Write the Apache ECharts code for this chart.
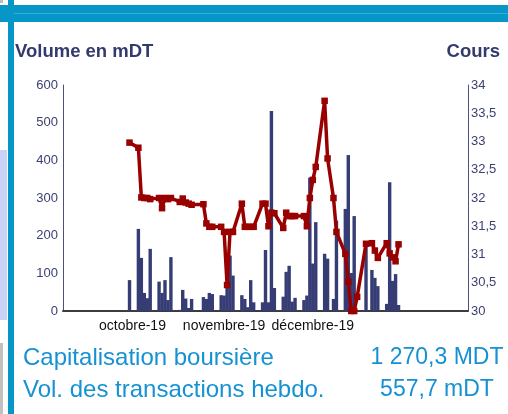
<!DOCTYPE html>
<html>
<head>
<meta charset="utf-8">
<style>
  html, body { margin: 0; padding: 0; background: #fff; }
  #chart { width: 508px; height: 414px; }
</style>
<script src="https://cdn.jsdelivr.net/npm/echarts@6.0.0/dist/echarts.min.js"></script>
</head>
<body>
<div id="chart"></div>
<script>
// axis runs day by day, from first to last calendar day
const axisStart = '2019-09-08'
const axisEnd = '2020-01-22'
const monthLabels = { '2019-10-01': 'octobre-19', '2019-11-01': 'novembre-19', '2019-12-01': 'décembre-19' }

const tradeDates = [
  '2019-09-30', '2019-10-03', '2019-10-04', '2019-10-05', '2019-10-06', '2019-10-07',
  '2019-10-10', '2019-10-11', '2019-10-12', '2019-10-13', '2019-10-14',
  '2019-10-17', '2019-10-18', '2019-10-19', '2019-10-20', '2019-10-21',
  '2019-10-25', '2019-10-26', '2019-10-27', '2019-10-28',
  '2019-10-31', '2019-11-01', '2019-11-02', '2019-11-03', '2019-11-04',
  '2019-11-07', '2019-11-08', '2019-11-09', '2019-11-10', '2019-11-11',
  '2019-11-14', '2019-11-15', '2019-11-16', '2019-11-17', '2019-11-18',
  '2019-11-21', '2019-11-22', '2019-11-23', '2019-11-24', '2019-11-25',
  '2019-11-28', '2019-11-29', '2019-11-30', '2019-12-01', '2019-12-02',
  '2019-12-05', '2019-12-06', '2019-12-08', '2019-12-09',
  '2019-12-12', '2019-12-13', '2019-12-14', '2019-12-15', '2019-12-16',
  '2019-12-19', '2019-12-21', '2019-12-22', '2019-12-23',
  '2019-12-26', '2019-12-27', '2019-12-28', '2019-12-29', '2019-12-30'
]
const volumes = [
  82, 218, 141, 48, 34, 165,
  78, 48, 82, 29, 143,
  3, 56, 33, 8, 32,
  37, 32, 48, 45,
  42, 41, 69, 147, 94,
  42, 32, 10, 82, 23,
  23, 162, 23, 531, 61,
  38, 104, 120, 25, 35,
  29, 41, 354, 126, 236,
  152, 139, 32, 240,
  271, 414, 101, 252, null,
  175, 109, 88, 66,
  19, 342, 80, 98, 16
]
const prices = [
  32.98, 32.89, 32.01, 32.0, 32.0, 31.98,
  32.0, 31.82, 32.0, 31.98, 32.0,
  31.93, 31.99, 31.92, 31.9, 31.88,
  31.89, 31.55, 31.49, 31.49,
  31.49, 31.4, 30.46, 31.4, 31.4,
  31.9, 31.49, 31.49, 31.49, 31.49,
  31.9, 31.9, 31.5, 31.74, 31.73,
  31.47, 31.74, 31.68, 31.68, 31.68,
  31.68, 31.5, 32.0, 32.32, 32.55,
  33.72, 32.7, 32.0, 31.4,
  31.01, 30.52, 30.0, 30.0, 30.25,
  31.19, 31.2, 31.07, 30.94,
  31.2, 31.02, 30.95, 30.88, 31.18
]

const days = []
for (let d = new Date(axisStart + 'T00:00:00Z'); d <= new Date(axisEnd + 'T00:00:00Z'); d.setUTCDate(d.getUTCDate() + 1)) {
  days.push(d.toISOString().slice(0, 10))
}
const volByDay = days.map((day) => { const i = tradeDates.indexOf(day); return i < 0 ? null : volumes[i] })
const priceByDay = days.map((day) => { const i = tradeDates.indexOf(day); return i < 0 ? null : prices[i] })

const font = "'Liberation Sans', Arial, sans-serif"
const navy = '#363c74'
const blue = '#1591d4'

const chart = echarts.init(document.getElementById('chart'), null, { renderer: 'canvas' })
chart.setOption({
  animation: false,
  backgroundColor: '#fff',
  grid: { left: 63, right: 40, top: 85, bottom: 103 },
  xAxis: {
    type: 'category', data: days,
    axisLine: { lineStyle: { color: '#3c3c3c', width: 2 } },
    axisTick: { show: false },
    axisLabel: {
      interval: (idx, val) => val in monthLabels,
      formatter: (val) => monthLabels[val] || '',
      color: '#111', fontSize: 14, fontFamily: font, margin: 8
    }
  },
  yAxis: [
    {
      type: 'value', min: 0, max: 600, interval: 100,
      axisLine: { show: true, lineStyle: { color: '#4a5082' } },
      axisTick: { show: false }, splitLine: { show: false },
      axisLabel: { color: '#3b4170', fontSize: 13, fontFamily: font, margin: 5 }
    },
    {
      type: 'value', min: 30, max: 34, interval: 0.5, position: 'right',
      axisLine: { show: true, lineStyle: { color: '#4a5082' } },
      axisTick: { show: false }, splitLine: { show: false },
      axisLabel: { color: '#3b4170', fontSize: 13, fontFamily: font, margin: 3, formatter: (v) => String(v).replace('.', ',') }
    }
  ],
  series: [
    { name: 'Volume', type: 'bar', data: volByDay, barWidth: 3.4, itemStyle: { color: navy } },
    {
      name: 'Cours', type: 'line', yAxisIndex: 1, data: priceByDay, connectNulls: true,
      symbol: 'rect', symbolSize: 6.5, showAllSymbol: true,
      lineStyle: { color: '#990000', width: 3.5 }, itemStyle: { color: '#990000' }
    }
  ],
  graphic: [
    { type: 'rect', shape: { x: 0, y: 0, width: 3, height: 3 }, style: { fill: '#bdbdbd' } },
    { type: 'rect', shape: { x: 0, y: 150, width: 7, height: 170 }, style: { fill: '#c9d2f7' } },
    { type: 'rect', shape: { x: 0, y: 343, width: 3, height: 71 }, style: { fill: '#c0c0c0' } },
    { type: 'rect', shape: { x: 8, y: 0, width: 6, height: 414 }, style: { fill: '#0796c8' } },
    { type: 'rect', shape: { x: 0, y: 5, width: 508, height: 17 }, style: { fill: '#0796c8' } },
    { type: 'rect', shape: { x: 14, y: 13, width: 494, height: 1 }, style: { fill: '#3aaad6' } },
    { type: 'text', x: 15, y: 52, style: { text: 'Volume en mDT', fill: '#343a6e', font: 'bold 18.5px ' + font, textVerticalAlign: 'middle' } },
    { type: 'text', x: 500, y: 52, style: { text: 'Cours', fill: '#343a6e', font: 'bold 18.5px ' + font, textAlign: 'right', textVerticalAlign: 'middle' } },
    { type: 'text', x: 23, y: 358, style: { text: 'Capitalisation boursière', fill: blue, font: '24px ' + font, textVerticalAlign: 'middle' } },
    { type: 'text', x: 437, y: 358, style: { text: '1 270,3 MDT', fill: blue, font: '23px ' + font, textAlign: 'center', textVerticalAlign: 'middle' } },
    { type: 'text', x: 23, y: 390, style: { text: 'Vol. des transactions hebdo.', fill: blue, font: '24px ' + font, textVerticalAlign: 'middle' } },
    { type: 'text', x: 437, y: 390, style: { text: '557,7 mDT', fill: blue, font: '23px ' + font, textAlign: 'center', textVerticalAlign: 'middle' } }
  ]
})
</script>
</body>
</html>
